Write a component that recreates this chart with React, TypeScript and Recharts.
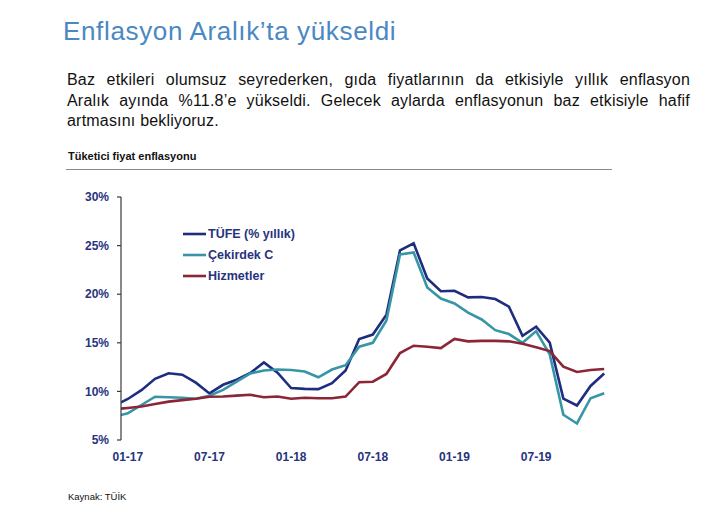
import React from 'react';
import { LineChart, Line, XAxis, YAxis, Legend } from 'recharts';

// Months shown (12-16 lies just left of the axis and is clipped)
const MONTHS = [
  '12-16',
  '01-17', '02-17', '03-17', '04-17', '05-17', '06-17', '07-17', '08-17', '09-17', '10-17', '11-17', '12-17',
  '01-18', '02-18', '03-18', '04-18', '05-18', '06-18', '07-18', '08-18', '09-18', '10-18', '11-18', '12-18',
  '01-19', '02-19', '03-19', '04-19', '05-19', '06-19', '07-19', '08-19', '09-19', '10-19', '11-19', '12-19',
];

const TUFE = [
  8.53,
  9.22, 10.13, 11.29, 11.87, 11.72, 10.9, 9.79, 10.68, 11.2, 11.9, 12.98, 11.92,
  10.35, 10.26, 10.23, 10.85, 12.15, 15.39, 15.85, 17.9, 24.52, 25.24, 21.62, 20.3,
  20.35, 19.67, 19.71, 19.5, 18.71, 15.72, 16.65, 15.01, 9.26, 8.55, 10.56, 11.84,
];

const CEKIRDEK_C = [
  7.4,
  7.75, 8.6, 9.45, 9.4, 9.35, 9.25, 9.55, 10.15, 11.0, 11.85, 12.15, 12.25,
  12.2, 12.05, 11.45, 12.25, 12.7, 14.6, 15.0, 17.3, 24.1, 24.3, 20.7, 19.55,
  19.05, 18.1, 17.4, 16.3, 15.9, 15.0, 16.2, 13.8, 7.6, 6.7, 9.3, 9.8,
];

const HIZMETLER = [
  8.15,
  8.3, 8.45, 8.7, 8.95, 9.1, 9.25, 9.45, 9.47, 9.57, 9.65, 9.4, 9.47,
  9.25, 9.35, 9.3, 9.3, 9.47, 10.95, 11.0, 11.8, 13.95, 14.7, 14.6, 14.45,
  15.4, 15.15, 15.2, 15.2, 15.15, 14.9, 14.55, 14.15, 12.55, 12.0, 12.2, 12.3,
];

const X_LABELS = ['01-17', '07-17', '01-18', '07-18', '01-19', '07-19'];
const Y_TICKS = [5, 10, 15, 20, 25, 30];

const SERIES = [
  { key: 'tufe', name: 'TÜFE (% yıllık)', color: '#1F2D80' },
  { key: 'cek', name: 'Çekirdek C', color: '#3796A6' },
  { key: 'hiz', name: 'Hizmetler', color: '#8C2536' },
];

const data = MONTHS.map((m, p) => ({
  i: p - 1,
  month: m,
  tufe: TUFE[p],
  cek: CEKIRDEK_C[p],
  hiz: HIZMETLER[p],
}));

const firstIdx = 0;
const lastIdx = MONTHS.length - 2;
const labelIdx = data.filter((d) => X_LABELS.includes(d.month)).map((d) => d.i);
const boundaryTicks = [...labelIdx.map((v) => v - 0.5), lastIdx + 0.5];
const labelOf = (v: number) => {
  const d = data.find((r) => r.i === v);
  return d ? d.month : '';
};

const NAVY = '#27337E';
const FONT = '"Liberation Sans", Arial, Helvetica, sans-serif';

const renderLegend = () => (
  <div style={{ fontFamily: FONT }}>
    {SERIES.map((s) => (
      <div key={s.key} style={{ display: 'flex', alignItems: 'center', height: 21 }}>
        <svg width={24} height={6} style={{ display: 'block' }}>
          <line x1={0} y1={3} x2={23} y2={3} stroke={s.color} strokeWidth={2.6} />
        </svg>
        <span style={{ fontWeight: 700, fontSize: 12.5, color: NAVY, marginLeft: 1, whiteSpace: 'nowrap' }}>
          {s.name}
        </span>
      </div>
    ))}
  </div>
);

export default function App() {
  return (
    <div style={{ position: 'absolute', left: 0, top: 0, width: 717, height: 512, background: '#fff', fontFamily: FONT, overflow: 'hidden' }}>
      <div style={{ position: 'absolute', left: 63, top: 16, fontSize: 26, lineHeight: '30px', color: '#4A88C4', letterSpacing: 0.65, whiteSpace: 'nowrap' }}>
        Enflasyon Aralık’ta yükseldi
      </div>
      <div style={{ position: 'absolute', left: 67, top: 70, width: 623, fontSize: 16, lineHeight: '20.5px', color: '#111', letterSpacing: 0.2 }}>
        <div style={{ textAlign: 'justify', textAlignLast: 'justify', whiteSpace: 'nowrap' }}>
          Baz etkileri olumsuz seyrederken, gıda fiyatlarının da etkisiyle yıllık enflasyon
        </div>
        <div style={{ textAlign: 'justify', textAlignLast: 'justify', whiteSpace: 'nowrap' }}>
          Aralık ayında %11.8’e yükseldi. Gelecek aylarda enflasyonun baz etkisiyle hafif
        </div>
        <div>artmasını bekliyoruz.</div>
      </div>
      <div style={{ position: 'absolute', left: 68, top: 149.5, fontSize: 11, lineHeight: '13px', fontWeight: 700, color: '#111', whiteSpace: 'nowrap' }}>
        Tüketici fiyat enflasyonu
      </div>
      <div style={{ position: 'absolute', left: 66, top: 168.5, width: 546, height: 1, background: '#8a8a8a' }} />
      <div style={{ position: 'absolute', left: 68, top: 491, fontSize: 9.5, lineHeight: '11px', color: '#111', whiteSpace: 'nowrap' }}>
        Kaynak: TÜİK
      </div>
      <div style={{ position: 'absolute', left: 0, top: 0 }}>
        <LineChart width={717} height={512} data={data} margin={{ top: 197, right: 106, bottom: 42, left: 60 }}>
          <XAxis
            xAxisId="b"
            type="number"
            dataKey="i"
            domain={[firstIdx - 0.5, lastIdx + 0.5]}
            allowDataOverflow
            ticks={boundaryTicks}
            interval={0}
            height={0}
            tick={false}
            tickSize={5}
            axisLine={{ stroke: '#3a3a3a', strokeWidth: 1.2 }}
            tickLine={{ stroke: '#3a3a3a', strokeWidth: 1.2 }}
          />
          <XAxis
            xAxisId="l"
            type="number"
            dataKey="i"
            domain={[firstIdx - 0.5, lastIdx + 0.5]}
            allowDataOverflow
            ticks={labelIdx}
            interval={0}
            height={30}
            axisLine={false}
            tickLine={false}
            tickSize={6}
            tickMargin={6}
            tickFormatter={labelOf}
            tick={{ fill: NAVY, fontSize: 12, fontWeight: 700, fontFamily: FONT }}
          />
          <YAxis
            domain={[5, 30]}
            ticks={Y_TICKS}
            interval={0}
            width={61}
            tickSize={4}
            tickMargin={8}
            tickFormatter={(v: number) => `${v}%`}
            axisLine={{ stroke: '#3a3a3a', strokeWidth: 1.2 }}
            tickLine={{ stroke: '#3a3a3a', strokeWidth: 1.2 }}
            tick={{ fill: NAVY, fontSize: 12, fontWeight: 700, fontFamily: FONT }}
          />
          <Legend
            layout="horizontal"
            verticalAlign="middle"
            align="center"
            content={renderLegend}
            wrapperStyle={{ left: 183, top: 223.5, width: 160 }}
          />
          {SERIES.map((s) => (
            <Line
              key={s.key}
              xAxisId="b"
              type="linear"
              dataKey={s.key}
              name={s.name}
              stroke={s.color}
              strokeWidth={2.6}
              dot={false}
              activeDot={false}
              isAnimationActive={false}
            />
          ))}
        </LineChart>
      </div>
    </div>
  );
}
